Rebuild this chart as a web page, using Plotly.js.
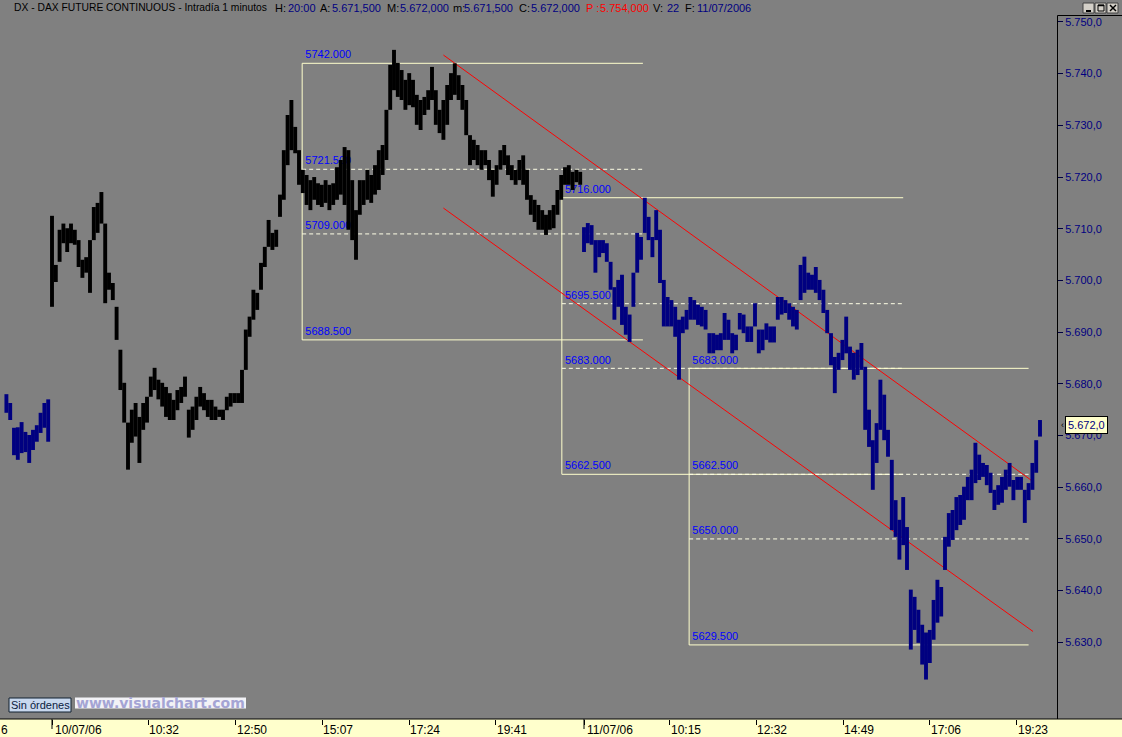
<!DOCTYPE html>
<html><head><meta charset="utf-8">
<script src="https://cdn.plot.ly/plotly-3.0.1.min.js"></script>
<style>html,body{margin:0;padding:0;background:#808080;overflow:hidden}</style>
</head><body><div id="chart" style="width:1122px;height:737px"></div>
<script>
// ---------------- DATA (minutes from 10/07/06 08:00, 1 trading day = 840 min) -------------
const STEP = 6; // sampling of the 1-minute bars (high/low of each 6-minute slot)
const S0_START = -72, S1_START = 0, S2_START = 840;

// session 07/07/06 (end of day)
const s0High = [5678.0,5676.3,5671.5,5671.6,5672.6,5670.7,5670.1,5671.1,5672.0,5674.4,5676.3,5677.0];
const s0Low  = [5674.4,5673.0,5666.2,5665.3,5666.6,5666.8,5664.7,5667.2,5668.8,5670.5,5671.5,5668.8];

// session 10/07/06
const s1High = [5712.5,5703.0,5709.8,5711.0,5710.1,5711.0,5709.8,5707.8,5704.0,5704.5,
5707.8,5714.2,5715.0,5717.1,5711.0,5701.5,5699.5,5694.9,5686.6,5680.2,
5672.5,5675.0,5676.3,5673.6,5676.3,5677.5,5681.4,5683.1,5680.8,5680.2,
5679.4,5678.2,5676.9,5678.8,5679.4,5681.4,5675.0,5675.6,5677.5,5679.4,
5678.2,5676.9,5676.9,5675.6,5675.0,5675.0,5677.5,5678.2,5678.2,5678.2,
5682.7,5690.5,5693.0,5698.2,5697.6,5703.4,5706.5,5711.7,5709.2,5709.8,
5716.6,5725.2,5732.0,5734.9,5729.7,5725.2,5721.4,5720.4,5719.4,5720.0,
5718.8,5718.5,5719.4,5718.5,5718.8,5721.9,5723.3,5725.8,5725.2,5719.4,
5713.6,5719.4,5719.4,5721.4,5720.4,5722.3,5725.2,5726.2,5733.0,5741.7,
5744.6,5742.1,5740.7,5738.8,5740.1,5738.8,5735.9,5734.9,5735.5,5736.8,
5741.3,5736.8,5733.0,5734.9,5737.8,5740.1,5742.0,5739.7,5737.8,5734.9,
5728.1,5727.2,5726.2,5725.2,5725.2,5723.3,5721.4,5722.3,5725.2,5726.2,
5724.2,5722.3,5721.4,5723.3,5724.2,5721.4,5716.5,5715.6,5714.6,5713.6,
5712.7,5713.6,5714.6,5717.5,5720.4,5721.9,5722.3,5721.0,5721.4,5721.0];
const s1Low = [5694.9,5699.7,5703.6,5707.2,5705.5,5707.2,5706.9,5702.6,5700.5,5701.5,
5697.6,5707.8,5709.2,5711.0,5695.6,5698.2,5696.2,5688.5,5678.8,5672.5,
5663.4,5668.6,5669.8,5664.7,5671.1,5672.5,5677.5,5678.8,5677.0,5675.6,
5673.6,5673.0,5673.0,5674.9,5676.3,5677.5,5669.6,5671.1,5673.0,5675.6,
5674.9,5673.6,5673.0,5673.0,5673.6,5673.0,5674.9,5675.6,5676.3,5676.3,
5676.3,5682.7,5689.1,5692.4,5694.3,5698.2,5702.6,5706.5,5705.9,5706.5,
5712.3,5715.6,5722.3,5725.2,5724.6,5718.5,5716.9,5714.6,5713.6,5715.6,
5714.6,5714.2,5715.0,5713.6,5714.6,5715.6,5716.6,5714.6,5709.8,5707.8,
5704.0,5712.7,5714.6,5715.6,5715.0,5716.6,5717.5,5720.4,5723.3,5733.0,
5736.8,5735.5,5734.9,5733.0,5733.9,5733.5,5730.1,5729.1,5732.0,5733.0,
5734.9,5730.1,5728.5,5727.2,5730.1,5734.9,5735.9,5734.9,5733.0,5728.1,
5722.3,5723.3,5722.3,5721.4,5722.3,5719.4,5716.2,5718.5,5721.4,5722.3,
5720.4,5719.4,5718.5,5719.4,5718.5,5715.6,5712.7,5711.3,5709.8,5709.8,
5708.8,5709.8,5710.1,5712.7,5715.6,5718.5,5718.5,5717.5,5719.0,5718.5];

// session 11/07/06
const s2High = [5710.3,5711.1,5710.7,5707.8,5707.8,5707.8,5707.2,5703.6,5698.7,5700.1,
5701.1,5694.9,5693.4,5701.5,5709.2,5708.4,5716.0,5712.3,5708.4,5713.6,
5709.8,5700.1,5696.8,5696.2,5694.9,5692.4,5693.0,5694.3,5696.8,5696.2,
5695.3,5694.9,5694.3,5689.8,5689.8,5689.5,5689.8,5693.7,5692.4,5689.8,
5689.5,5693.7,5693.4,5691.1,5691.1,5695.6,5690.5,5690.5,5691.7,5691.1,
5691.1,5696.8,5696.8,5696.2,5695.6,5694.9,5694.3,5703.0,5704.6,5701.5,
5701.1,5702.6,5700.1,5698.2,5694.3,5689.8,5685.2,5686.0,5688.5,5693.0,
5687.2,5686.0,5686.6,5687.9,5683.3,5675.0,5669.1,5672.4,5680.8,5677.9,
5671.1,5665.3,5657.5,5653.7,5658.1,5652.3,5640.2,5638.8,5636.3,5633.4,
5631.9,5632.4,5638.2,5642.1,5640.7,5650.4,5655.0,5655.6,5658.1,5658.5,
5660.1,5662.0,5663.4,5668.6,5666.3,5664.7,5664.3,5662.8,5659.5,5660.4,
5662.0,5663.4,5664.7,5661.4,5662.0,5662.0,5659.5,5660.8,5664.7,5669.1,
5673.0];
const s2Low = [5705.5,5707.2,5706.9,5701.5,5704.5,5705.3,5703.6,5698.2,5692.4,5694.9,
5691.4,5689.5,5688.1,5694.9,5701.5,5704.0,5709.2,5707.8,5704.5,5707.8,
5699.5,5691.1,5691.1,5691.1,5689.1,5680.8,5689.8,5690.5,5692.4,5692.4,
5691.4,5691.1,5690.5,5685.9,5685.9,5686.5,5686.5,5688.5,5688.5,5685.9,
5686.5,5690.5,5689.8,5688.1,5688.1,5691.1,5685.9,5686.5,5688.5,5688.0,
5688.0,5692.4,5693.4,5693.7,5692.4,5691.1,5690.5,5696.2,5697.6,5698.2,
5698.2,5697.6,5696.2,5693.7,5689.8,5683.6,5678.2,5682.7,5684.6,5685.9,
5682.7,5680.8,5681.7,5682.7,5671.1,5667.8,5659.5,5664.7,5671.1,5669.1,
5665.9,5651.7,5650.4,5646.0,5648.8,5644.0,5628.6,5632.4,5629.9,5625.7,
5622.8,5626.0,5630.5,5633.8,5635.0,5644.0,5648.5,5649.8,5651.7,5652.7,
5653.7,5657.5,5657.5,5660.8,5661.4,5662.0,5660.4,5658.9,5655.6,5656.6,
5657.0,5659.5,5660.1,5657.5,5659.5,5659.5,5653.1,5657.5,5659.5,5662.8,
5669.8];

// retracement boxes drawn on the chart
const boxStart = [395, 805, 1006];
const boxEnd   = [933, 1344, 1542];
const boxLevels = [[5742.0, 5721.5, 5709.0, 5688.5],
                   [5716.0, 5695.5, 5683.0, 5662.5],
                   [5683.0, 5662.5, 5650.0, 5629.5]];
// channel lines
const chanX = [618, 1549];
const chanUpper = [5743.6, 5661.1];
const chanLower = [5714.0, 5632.1];

// axis ticks
const priceTicks = [5630, 5640, 5650, 5660, 5670, 5680, 5690, 5700, 5710, 5720, 5730, 5740, 5750];
const tickMin = [0, 152, 290, 427, 564, 701, 840, 975, 1112, 1249, 1386, 1523];
const tickText = ['10/07/06','10:32','12:50','15:07','17:24','19:41','11/07/06','10:15','12:32','14:49','17:06','19:23'];
const prevDayTail = '6';   // visible tail of the previous day's date label
const dayStarts = [0, 840];
const lastPrice = 5672.0;

// header
const header = [['DX - DAX FUTURE CONTINUOUS - Intradía 1 minutos','l'],['H:','l'],['20:00','v'],['A:','l'],['5.671,500','v'],
  ['M:','l'],['5.672,000','v'],['m:','l'],['5.671,500','v'],['C:','l'],['5.672,000','v'],['P :','r'],['5.754,000','r'],
  ['V:','l'],['22','v'],['F:','l'],['11/07/2006','v']];
const headerX = [13,274,287,319,331,386,399,452,463,518,530,585,599,652,666,684,696];

// ---------------- PLOT ----------------
const W = 1122, H = 737, ML = 0, MR = 65, MT = 16, MB = 18;
const PW = W - ML - MR, PH = H - MT - MB;
const px = v => (v - ML) / PW;            // pixel -> paper x
const py = v => (H - MB - v) / PH;        // pixel -> paper y

function grid(start, n) { const a = []; for (let i = 0; i < n; i++) a.push(start + STEP * i); return a; }
function segs(xs, hi, lo) {
  const X = [], Y = [];
  for (let i = 0; i < xs.length; i++) { X.push(xs[i], xs[i], null); Y.push(lo[i], hi[i], null); }
  return {X, Y};
}
const NAVY = '#000080';
const sessions = [
  {x: grid(S0_START, s0High.length), hi: s0High, lo: s0Low, c: NAVY},
  {x: grid(S1_START, s1High.length), hi: s1High, lo: s1Low, c: '#000000'},
  {x: grid(S2_START, s2High.length), hi: s2High, lo: s2Low, c: NAVY}
];

const traces = [];
// level labels (below the price bars)
const lx = [], ly = [], lt = [];
boxLevels.forEach((lv, b) => lv.forEach(v => { lx.push(boxStart[b] + 5); ly.push(v + 0.4); lt.push(v.toFixed(3)); }));
traces.push({type:'scatter', mode:'text', x: lx, y: ly, text: lt, textposition:'top right',
  textfont:{family:'Liberation Sans, Arial, sans-serif', size:11, color:'#0000FF'}, hoverinfo:'skip', showlegend:false});
sessions.forEach(s => {
  const g = segs(s.x, s.hi, s.lo);
  traces.push({type:'scatter', mode:'lines', x: g.X, y: g.Y, connectgaps:false,
    line:{color: s.c, width: 3.9, simplify:false}, hoverinfo:'skip', showlegend:false});
});

const shapes = [];
// bottom strip
shapes.push({type:'rect', xref:'paper', yref:'paper', x0: px(0), x1: px(W), y0: py(H), y1: py(719), fillcolor:'#FFFFCC', line:{width:0}, layer:'below'});
shapes.push({type:'line', xref:'paper', yref:'paper', x0: px(0), x1: px(W), y0: py(719), y1: py(719), line:{color:'#000', width:1}});
shapes.push({type:'line', xref:'paper', yref:'paper', x0: px(1057.5), x1: px(W), y0: py(15.5), y1: py(15.5), line:{color:'#000', width:1}});
shapes.push({type:'line', xref:'paper', yref:'paper', x0: px(1057.5), x1: px(1057.5), y0: py(15.5), y1: py(719), line:{color:'#000', width:1}});
// day separator ticks
dayStarts.forEach(d => {
  shapes.push({type:'line', xref:'x', yref:'paper', x0: d, x1: d, y0: py(719), y1: py(729), line:{color:'#000', width:1}});
});
// retracement boxes
const SOLID = '#FFFFCC', DASH = '#FFFFE6';
boxLevels.forEach((lv, b) => {
  const x0 = boxStart[b], x1 = boxEnd[b];
  shapes.push({type:'line', x0, x1, y0: lv[0], y1: lv[0], line:{color:SOLID, width:1}, layer:'below'});
  shapes.push({type:'line', x0, x1, y0: lv[3], y1: lv[3], line:{color:SOLID, width:1}, layer:'below'});
  shapes.push({type:'line', x0, x1: x0, y0: lv[3], y1: lv[0], line:{color:SOLID, width:1}, layer:'below'});
  [lv[1], lv[2]].forEach(v => shapes.push({type:'line', x0, x1, y0: v, y1: v, line:{color:DASH, width:1, dash:'4px,3px'}, layer:'below'}));
});
// channel
shapes.push({type:'line', x0: chanX[0], x1: chanX[1], y0: chanUpper[0], y1: chanUpper[1], line:{color:'#FF0000', width:1}, layer:'below'});
shapes.push({type:'line', x0: chanX[0], x1: chanX[1], y0: chanLower[0], y1: chanLower[1], line:{color:'#FF0000', width:1}, layer:'below'});
// window buttons
[[1083,1095],[1095,1107],[1107,1119]].forEach(b => {
  shapes.push({type:'rect', xref:'paper', yref:'paper', x0: px(b[0]), x1: px(b[1]-1), y0: py(13), y1: py(3), fillcolor:'#D4D0C8', line:{color:'#404040', width:1}});
});
shapes.push({type:'line', xref:'paper', yref:'paper', x0: px(1086), x1: px(1091), y0: py(11), y1: py(11), line:{color:'#000', width:2}});
shapes.push({type:'rect', xref:'paper', yref:'paper', x0: px(1098), x1: px(1104), y0: py(11), y1: py(5), line:{color:'#000', width:1}});
shapes.push({type:'line', xref:'paper', yref:'paper', x0: px(1098), x1: px(1104), y0: py(5.5), y1: py(5.5), line:{color:'#000', width:1.5}});
shapes.push({type:'line', xref:'paper', yref:'paper', x0: px(1110), x1: px(1116), y0: py(5), y1: py(11), line:{color:'#000', width:1.5}});
shapes.push({type:'line', xref:'paper', yref:'paper', x0: px(1110), x1: px(1116), y0: py(11), y1: py(5), line:{color:'#000', width:1.5}});
// "Sin órdenes" button and site banner
shapes.push({type:'rect', xref:'paper', yref:'paper', x0: px(9), x1: px(71), y0: py(712), y1: py(698), fillcolor:'#C8D8EE', line:{color:'#102030', width:1}});
shapes.push({type:'rect', xref:'paper', yref:'paper', x0: px(75), x1: px(246), y0: py(708.5), y1: py(697.5), fillcolor:'#F2F2F6', line:{width:0}});

const ann = [];
const FONT = 'Liberation Sans, Arial, sans-serif';
header.forEach((h, i) => {
  const col = h[1] === 'l' ? '#000000' : (h[1] === 'v' ? NAVY : '#FF0000');
  ann.push({xref:'paper', yref:'paper', x: px(headerX[i]), y: py(8), xanchor:'left', yanchor:'middle', showarrow:false,
    text: h[0], font:{family: FONT, size: (i === 0 ? 10.3 : 11), color: col}, borderpad: 0});
});
tickMin.forEach((t, i) => {
  ann.push({xref:'x', yref:'paper', x: t, y: py(729.5), xanchor:'left', yanchor:'middle', showarrow:false, xshift: (dayStarts.includes(t) ? 2 : 0),
    text: tickText[i], font:{family: FONT, size: 12, color:'#000'}, borderpad: 0});
});
ann.push({xref:'paper', yref:'paper', x: px(0), y: py(729.5), xanchor:'left', yanchor:'middle', showarrow:false,
  text: prevDayTail, font:{family: FONT, size: 12, color:'#000'}, borderpad: 0});
ann.push({xref:'paper', yref:'y', x: px(1065), y: lastPrice, xanchor:'left', yanchor:'middle', showarrow:false,
  text: lastPrice.toLocaleString('de-DE', {minimumFractionDigits:1, maximumFractionDigits:1}),
  font:{family: FONT, size: 11, color: NAVY}, bgcolor:'#FFFFCC', bordercolor:'#000', borderwidth:1, borderpad:2});
ann.push({xref:'paper', yref:'y', x: px(1059.5), y: lastPrice, xanchor:'left', yanchor:'middle', showarrow:false,
  text: '‹', font:{family: FONT, size: 9, color:'#000'}, borderpad: 0});
ann.push({xref:'paper', yref:'paper', x: px(40), y: py(705), xanchor:'center', yanchor:'middle', showarrow:false,
  text: 'Sin órdenes', font:{family: FONT, size: 11, color:'#0A2040'}, borderpad: 0});
ann.push({xref:'paper', yref:'paper', x: px(160.5), y: py(703), xanchor:'center', yanchor:'middle', showarrow:false,
  text: '<b>www.visualchart.com</b>', font:{family: 'DejaVu Sans, Verdana, sans-serif', size: 14, color:'#A4A4D4'}, borderpad: 0});

const layout = {
  width: W, height: H, margin: {l: ML, r: MR, t: MT, b: MB, pad: 0},
  paper_bgcolor: '#808080', plot_bgcolor: '#808080', showlegend: false,
  separators: ',.',
  xaxis: {range: [(0 - 52) * 840 / 532, (1057 - 52) * 840 / 532], showgrid: false, zeroline: false, showline: false,
    ticks: 'outside', ticklen: 5, tickcolor: '#000', tickwidth: 1, tickvals: tickMin, showticklabels: false, fixedrange: true},
  yaxis: {side: 'right', range: [5615.17, 5751.15], tickmode: 'array', tickvals: priceTicks, tickformat: ',.1f', showgrid: false, zeroline: false,
    showline: false, ticks: 'outside', ticklen: 5, tickcolor: '#000040', tickwidth: 1,
    tickfont: {family: FONT, size: 11, color: NAVY}, fixedrange: true},
  shapes: shapes, annotations: ann
};
Plotly.newPlot('chart', traces, layout, {displayModeBar: false, staticPlot: true});
</script></body></html>
